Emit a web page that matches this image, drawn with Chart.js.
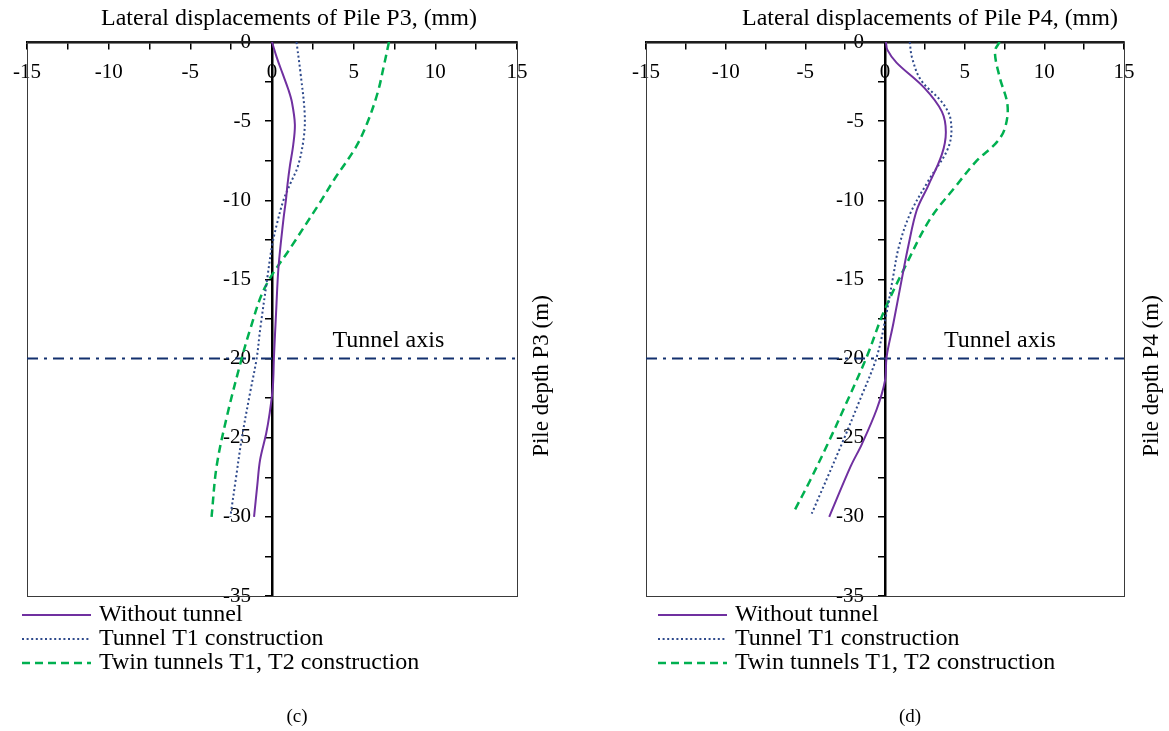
<!DOCTYPE html>
<html>
<head>
<meta charset="utf-8">
<script src="https://cdn.jsdelivr.net/npm/chart.js@4.4.1/dist/chart.umd.min.js"></script>
<style>
  body { margin: 0; background: #fff; }
  .panel { position: absolute; top: 0; height: 731px; }
</style>
</head>
<body>
<div class="panel" style="left:0;width:584px"><canvas id="chartP3" width="584" height="731"></canvas></div>
<div class="panel" style="left:584px;width:585px"><canvas id="chartP4" width="585" height="731"></canvas></div>
<script>
// lateral displacement (mm) against depth (m), pile P3
const p3DepthWithout = [0, -1, -2, -3, -3.8, -5.2, -6.5, -7.8, -9, -10, -11.2, -14.2, -17.1, -19.9, -21.8, -23.5, -24.7, -26.4, -28, -30];
const p3Without = [0, 0.3, 0.65, 1.0, 1.22, 1.4, 1.3, 1.1, 0.95, 0.85, 0.7, 0.4, 0.25, 0.12, 0.05, -0.15, -0.35, -0.73, -0.9, -1.1];
const p3DepthT1 = [0, -2, -4.5, -6, -7.8, -9, -10, -11.5, -12.9, -15, -18.2, -20, -22.2, -25.1, -27.5, -30];
const p3T1 = [1.5, 1.75, 2.0, 1.95, 1.6, 1.1, 0.7, 0.3, 0.0, -0.3, -0.73, -0.94, -1.35, -1.86, -2.2, -2.55];
const p3DepthTwin = [0, -1.5, -3.2, -5.2, -6.7, -8.7, -10.2, -12.9, -15.5, -18.2, -20.4, -23.7, -26.8, -30];
const p3Twin = [7.16, 6.85, 6.47, 5.8, 5.1, 3.8, 2.9, 1.2, -0.43, -1.35, -1.96, -2.77, -3.39, -3.7];

// pile P4
const p4DepthWithout = [0, -0.5, -1.3, -2.9, -4.4, -5.7, -7.1, -9.1, -10.6, -12.9, -15, -17.8, -19.9, -21.4, -23.2, -25.4, -26.8, -30];
const p4Without = [0.06, 0.15, 0.72, 2.47, 3.57, 3.82, 3.57, 2.7, 2.0, 1.46, 1.05, 0.52, 0.1, 0, -0.52, -1.45, -2.15, -3.5];
const p4DepthT1 = [0, -1, -2.4, -3.8, -4.9, -6.6, -8.8, -10.8, -12.9, -15, -17.1, -19.9, -22.6, -25.6, -29.8];
const p4T1 = [1.55, 1.7, 2.25, 3.57, 4.12, 4.0, 2.7, 1.6, 0.88, 0.48, 0.1, -0.52, -1.57, -2.8, -4.6];
const p4DepthTwin = [0, -0.6, -2.2, -4, -5.5, -6.4, -7.5, -9.1, -11.2, -14, -17.1, -19.9, -23.2, -25.4, -27.7, -29.6];
const p4Twin = [7.19, 6.9, 7.19, 7.69, 7.51, 6.95, 5.76, 4.45, 2.82, 1.36, -0.1, -1.15, -2.6, -3.6, -4.7, -5.68];

const tunnelDepth = -20;
const xRange = [-15, 15];
const depthRange = [-35, 0];
const seriesNames = ["Without tunnel", "Tunnel T1 construction", "Twin tunnels T1, T2 construction"];

const purple = "#7030A0";
const navy = "#2F4A8C";
const green = "#00B050";
const tunnelColor = "#13306E";
const serif = "'Liberation Serif', 'Times New Roman', serif";
const textSize = 24;

function pts(xs, ys) {
  return xs.map((x, i) => ({ x: x, y: ys[i] }));
}

const styles = [
  { color: purple, dash: [], width: 2 },
  { color: navy, dash: [2, 2.6], width: 2 },
  { color: green, dash: [8, 5], width: 2.5 },
];

// titles, legend and frame drawn around the plot
const decor = {
  id: "decor",
  beforeDatasetsDraw(chart) {
    const { ctx, chartArea: a } = chart;
    ctx.save();
    ctx.strokeStyle = "#3a3a3a";
    ctx.lineWidth = 1;
    ctx.strokeRect(a.left + 0.5, a.top, a.right - a.left, a.bottom - a.top + 0.5);
    ctx.restore();
  },
  afterDraw(chart, args, o) {
    const { ctx } = chart;
    const sx = chart.scales.x, sy = chart.scales.y;
    ctx.save();
    ctx.fillStyle = "#000";
    ctx.font = textSize + "px " + serif;
    ctx.textBaseline = "middle";
    ctx.textAlign = "center";
    ctx.fillText(o.title, o.titleX, 19);

    ctx.textAlign = "left";
    ctx.fillText("Tunnel axis", sx.getPixelForValue(3.7), sy.getPixelForValue(-18.9));

    ctx.save();
    ctx.font = "23px " + serif;
    ctx.translate(o.yTitleX, 376);
    ctx.rotate(-Math.PI / 2);
    ctx.textAlign = "center";
    ctx.fillText(o.yTitle, 0, 0);
    ctx.restore();

    // legend
    const rows = [615, 639, 663];
    seriesNames.forEach((name, i) => {
      const s = styles[i];
      ctx.beginPath();
      ctx.strokeStyle = s.color;
      ctx.lineWidth = s.width;
      ctx.setLineDash(s.dash);
      ctx.moveTo(o.legendX, rows[i]);
      ctx.lineTo(o.legendX + 69, rows[i]);
      ctx.stroke();
      ctx.setLineDash([]);
      ctx.fillText(name, o.legendX + 77, rows[i]);
    });

    ctx.textAlign = "center";
    ctx.font = "19px " + serif;
    ctx.fillText(o.caption, o.captionX, 717);
    ctx.restore();
  }
};

function makeChart(id, series, pad, o) {
  const datasets = series.map((d, i) => ({
    label: seriesNames[i],
    data: d,
    borderColor: styles[i].color,
    borderWidth: styles[i].width,
    borderDash: styles[i].dash,
    pointRadius: 0,
    tension: 0.35,
    showLine: true,
    fill: false,
  }));
  datasets.push({
    label: "Tunnel axis",
    data: [{ x: xRange[0], y: tunnelDepth }, { x: xRange[1], y: tunnelDepth }],
    borderColor: tunnelColor,
    borderWidth: 2,
    borderDash: [11, 6, 3, 6],
    pointRadius: 0,
    showLine: true,
  });

  const isMajor = v => Math.abs(v % 5) < 1e-9;

  return new Chart(document.getElementById(id), {
    type: "scatter",
    data: { datasets: datasets },
    options: {
      responsive: false,
      animation: false,
      layout: { padding: pad },
      plugins: {
        legend: { display: false },
        tooltip: { enabled: false },
        decor: o,
      },
      scales: {
        x: {
          type: "linear",
          position: { y: 0 },
          min: xRange[0],
          max: xRange[1],
          ticks: {
            stepSize: 2.5,
            autoSkip: false,
            maxRotation: 0,
            padding: 12,
            color: "#000",
            font: { family: serif, size: 21 },
            callback: v => (isMajor(v) ? String(v) : ""),
          },
          grid: { drawOnChartArea: false, drawTicks: true, tickLength: 6, color: "#000", lineWidth: 1.5 },
          border: { color: "#000", width: 2.5 },
        },
        y: {
          type: "linear",
          position: { x: 0 },
          min: depthRange[0],
          max: depthRange[1],
          ticks: {
            stepSize: 2.5,
            autoSkip: false,
            color: "#000",
            font: { family: serif, size: 21 },
            // trailing spaces keep the labels clear of the tick marks
            callback: v => (isMajor(v) ? String(v) + "    " : ""),
          },
          grid: { drawOnChartArea: false, drawTicks: true, tickLength: 6, color: "#000", lineWidth: 1.5 },
          border: { color: "#000", width: 2.5 },
        },
      },
    },
    plugins: [decor],
  });
}

makeChart("chartP3",
  [pts(p3Without, p3DepthWithout), pts(p3T1, p3DepthT1), pts(p3Twin, p3DepthTwin)],
  { left: 27, right: 67, top: 42, bottom: 135 },
  { title: "Lateral displacements of Pile P3, (mm)", titleX: 289, yTitle: "Pile depth P3 (m)", yTitleX: 542, legendX: 22, caption: "(c)", captionX: 297 });

makeChart("chartP4",
  [pts(p4Without, p4DepthWithout), pts(p4T1, p4DepthT1), pts(p4Twin, p4DepthTwin)],
  { left: 62, right: 45, top: 42, bottom: 135 },
  { title: "Lateral displacements of Pile P4, (mm)", titleX: 346, yTitle: "Pile depth P4 (m)", yTitleX: 568, legendX: 74, caption: "(d)", captionX: 326 });
</script>
</body>
</html>
